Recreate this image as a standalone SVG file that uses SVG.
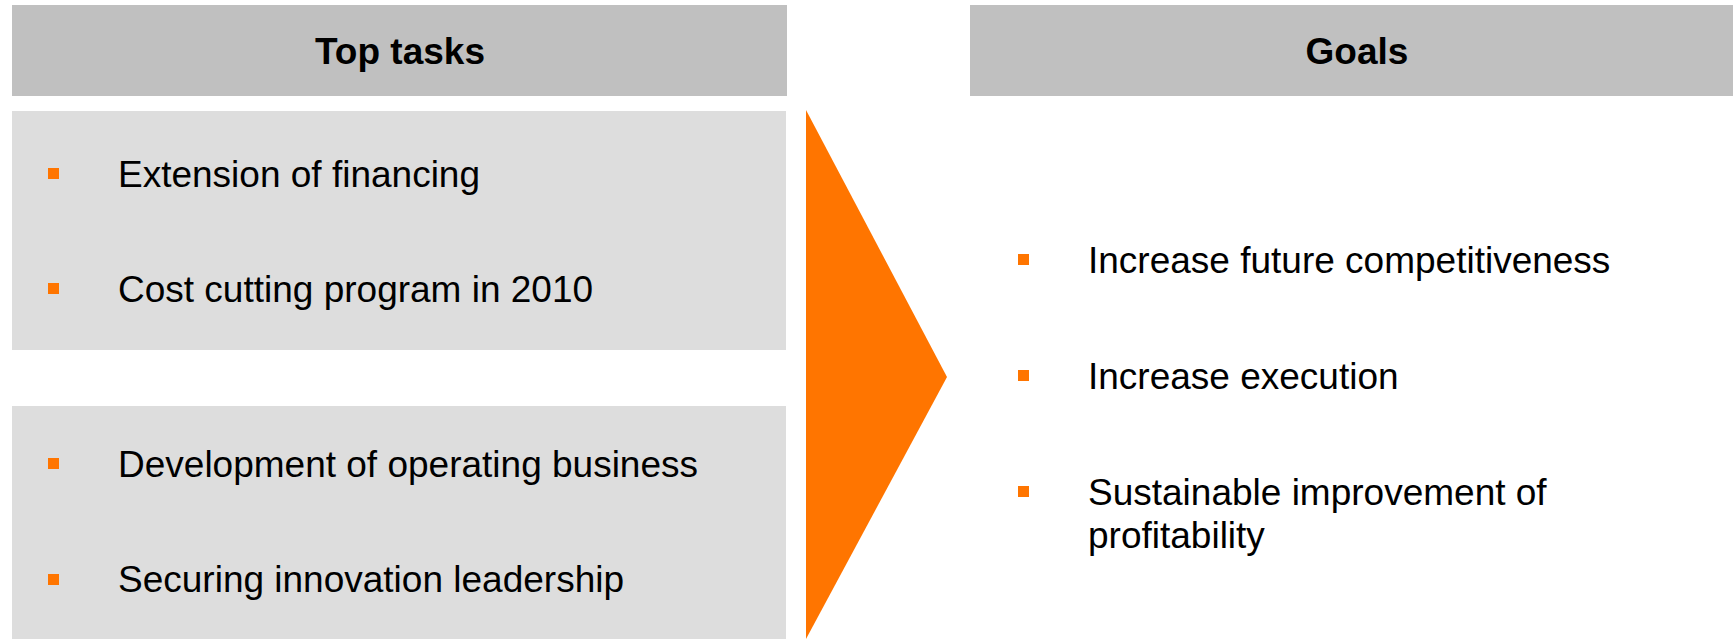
<svg xmlns="http://www.w3.org/2000/svg" width="1733" height="639" viewBox="0 0 1733 639">
<style>
.hdr{fill:#C0C0C0}
.box{fill:#DDDDDD}
.bul{fill:#FF7500}
.h{font-family:"Liberation Sans",Arial,sans-serif;font-weight:bold;font-size:37px;fill:#000;text-anchor:middle}
.t{font-family:"Liberation Sans",Arial,sans-serif;font-size:37px;fill:#000}
</style>
<rect width="1733" height="639" fill="#FFFFFF"/>
<g id="top-tasks-header">
<rect class="hdr" x="12" y="5" width="775" height="91"/>
<text class="h" x="400" y="64">Top tasks</text>
</g>
<g id="goals-header">
<rect class="hdr" x="970" y="5" width="763" height="91"/>
<text class="h" x="1357" y="64">Goals</text>
</g>
<g id="tasks-box-1">
<rect class="box" x="12" y="111" width="774" height="239"/>
<rect class="bul" x="48" y="168" width="11" height="11"/>
<text class="t" x="118" y="187">Extension of financing</text>
<rect class="bul" x="48" y="283" width="11" height="11"/>
<text class="t" x="118" y="302">Cost cutting program in 2010</text>
</g>
<g id="tasks-box-2">
<rect class="box" x="12" y="406" width="774" height="233"/>
<rect class="bul" x="48" y="458" width="11" height="11"/>
<text class="t" x="118" y="477">Development of operating business</text>
<rect class="bul" x="48" y="574" width="11" height="11"/>
<text class="t" x="118" y="592">Securing innovation leadership</text>
</g>
<g id="connectors">
<polygon fill="#FF7500" points="806,110 947,377 806,639"/>
</g>
<g id="goals">
<rect class="bul" x="1018" y="254" width="11" height="11"/>
<text class="t" x="1088" y="273">Increase future competitiveness</text>
<rect class="bul" x="1018" y="370" width="11" height="11"/>
<text class="t" x="1088" y="389">Increase execution</text>
<rect class="bul" x="1018" y="486" width="11" height="11"/>
<text class="t" x="1088" y="505">Sustainable improvement of</text>
<text class="t" x="1088" y="548">profitability</text>
</g>
</svg>
